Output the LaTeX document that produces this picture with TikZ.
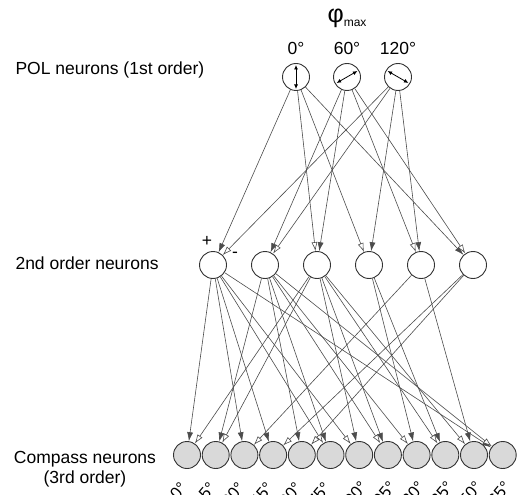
\documentclass[tikz,border=0pt]{standalone}
\usepackage{fontspec}
\setmainfont{Liberation Sans}
\usetikzlibrary{arrows.meta, calc, positioning}

\begin{document}
\begin{tikzpicture}[x=1pt,y=-1pt,
  font=\fontsize{17.5}{20}\selectfont,
  neuron/.style={circle, draw=black!80, line width=0.9pt, minimum size=27pt, inner sep=0pt},
  compass/.style={neuron, fill=black!15},
  link/.style={draw=black!70, line width=0.6pt},
  plus/.style={link, -{Latex[length=9pt,width=6pt]}},
  minus/.style={link, -{Latex[open,length=9pt,width=6pt,fill=white]}},
  evec/.style={line width=0.8pt, {Latex[length=4.5pt,width=4pt]}-{Latex[length=4.5pt,width=4pt]}},
  angle/.style={rotate=50, anchor=north east, inner sep=0pt, font=\fontsize{16.5}{18}\selectfont}]
\useasboundingbox (0,0) rectangle (518,494);

% POL neurons
\node (phi) at (347,18) {\fontsize{25}{26}\selectfont φ\raisebox{-4pt}{\fontsize{12}{12}\selectfont max}};
\foreach \n/\x/\a in {1/296/0,2/347/60,3/398/120}{
  \node[neuron] (p\n) at (\x,77) {};
  \node (pa\n) at (\x,48) {\a°};
}
\draw[evec] ([shift={(90:12)}]p1.center) -- ([shift={(-90:12)}]p1.center);
\draw[evec] ([shift={(150:12)}]p2.center) -- ([shift={(-30:12)}]p2.center);
\draw[evec] ([shift={(210:12)}]p3.center) -- ([shift={(30:12)}]p3.center);

% 2nd order neurons
\foreach \n in {1,...,6}
  \node[neuron] (s\n) at (213+52*\n-52,265) {};
\node (plus) at (207,241) {+};
\node (minus) at (235,255) {-};

% compass neurons
\foreach \n/\a in {1/0,2/15,3/30,4/45,5/60,6/75}{
  \node[compass] (c\n) at (187+28.7*\n-28.7,455) {};
  \node[angle] (ca\n) at (179+28.7*\n-28.7,481) {\a°};
}
\foreach \n/\a in {7/90,8/105,9/120,10/135,11/150,12/165}{
  \node[compass] (c\n) at (187+28.7*\n-28.7,455) {};
  \node[angle] (ca\n) at (187+28.7*\n-28.7,480) {\a°};
}

% labels
\node[anchor=west] (l1) at (12,70) {POL neurons (1st order)};
\node[anchor=west] (l2) at (12,263) {2nd order neurons};
\node[align=center] (l3) at (85,469) {Compass neurons\\(3rd order)};

% POL -> 2nd order
\draw[plus] (p1) -- (s1);  \draw[minus] (p3) -- (s1);
\draw[plus] (p2) -- (s2);  \draw[minus] (p3) -- (s2);
\draw[plus] (p2) -- (s3);  \draw[minus] (p1) -- (s3);
\draw[plus] (p3) -- (s4);  \draw[minus] (p1) -- (s4);
\draw[plus] (p3) -- (s5);  \draw[minus] (p2) -- (s5);
\draw[plus] (p1) -- (s6);  \draw[minus] (p2) -- (s6);

% 2nd order -> compass
\draw[plus] (s1) -- (c1);  \draw[minus] (s3) -- (c1);
\draw[plus] (s2) -- (c2);  \draw[minus] (s3) -- (c2);
\draw[plus] (s1) -- (c3);  \draw[minus] (s5) -- (c3);
\draw[plus] (s1) -- (c4);  \draw[minus] (s6) -- (c4);
\draw[plus] (s2) -- (c5);  \draw[minus] (s6) -- (c5);
\draw[plus] (s2) -- (c6);  \draw[minus] (s1) -- (c6);
\draw[plus] (s3) -- (c7);  \draw[minus] (s1) -- (c7);
\draw[plus] (s3) -- (c8);  \draw[minus] (s2) -- (c8);
\draw[plus] (s4) -- (c9);  \draw[minus] (s2) -- (c9);
\draw[plus] (s4) -- (c10); \draw[minus] (s3) -- (c10);
\draw[plus] (s5) -- (c11); \draw[minus] (s3) -- (c11);
\draw[plus] (s1) -- (c12); \draw[minus] (s2) -- (c12);
\end{tikzpicture}
\end{document}
